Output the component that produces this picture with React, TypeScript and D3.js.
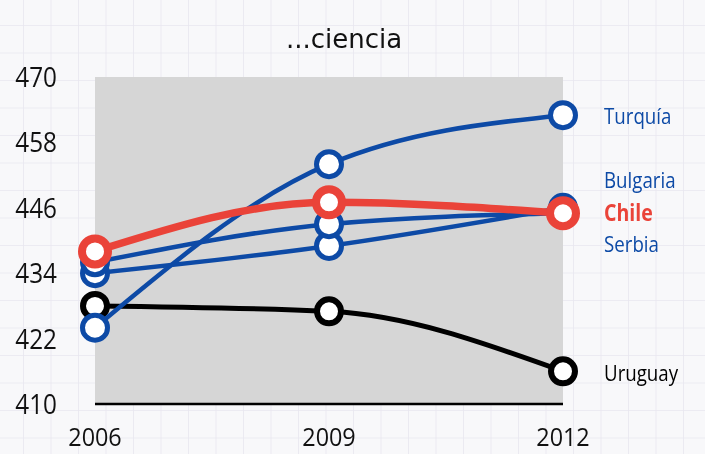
import React from "react";
import * as d3 from "d3";

const years = [2006, 2009, 2012];
const yTicks = [410, 422, 434, 446, 458, 470];

const uruguay = [428, 427, 416];
const turquia = [424, 454, 463];
const bulgaria = [434, 439, 446];
const serbia = [436, 443, 445];
const chile = [438, 447, 445];

const BLUE = "#0d4aa6";
const RED = "#ea4339";
const BLACK = "#000000";

type Series = {
  name: string;
  values: number[];
  color: string;
  lineWidth: number;
  ring: number;
  r: number;
};

const series: Series[] = [
  { name: "Uruguay", values: uruguay, color: BLACK, lineWidth: 5, ring: 6, r: 12 },
  { name: "Turquía", values: turquia, color: BLUE, lineWidth: 4.5, ring: 5, r: 12.5 },
  { name: "Bulgaria", values: bulgaria, color: BLUE, lineWidth: 4.5, ring: 5, r: 12.5 },
  { name: "Serbia", values: serbia, color: BLUE, lineWidth: 4.5, ring: 5, r: 12.5 },
  { name: "Chile", values: chile, color: RED, lineWidth: 7.5, ring: 8, r: 13 },
];

const labels = [
  { text: "Turquía", y: 115, color: BLUE, bold: false },
  { text: "Bulgaria", y: 179, color: BLUE, bold: false },
  { text: "Chile", y: 212, color: RED, bold: true },
  { text: "Serbia", y: 243, color: BLUE, bold: false },
  { text: "Uruguay", y: 372, color: BLACK, bold: false },
];

const W = 705;
const H = 454;
const FONT = "'Open Sans', sans-serif";

export default function App() {
  const x = d3.scalePoint<number>().domain(years).range([95, 563]);
  const y = d3.scaleLinear().domain([410, 470]).range([404, 77]);
  const line = d3
    .line<number>()
    .x((_, i) => x(years[i]) as number)
    .y((v) => y(v))
    .curve(d3.curveMonotoneX);

  return (
    <svg
      width={W}
      height={H}
      style={{ position: "fixed", left: 0, top: 0, display: "block" }}
    >
      <defs>
        <pattern id="paper" width={27.5} height={27.5} patternUnits="userSpaceOnUse" x={-4.5} y={-2.5}>
          <rect width={27.5} height={27.5} fill="#f8f8fa" />
          <path d="M 0 0 H 27.5 M 0 0 V 27.5" stroke="#e9e7f0" strokeWidth={1.6} fill="none" />
        </pattern>
      </defs>
      <rect width={W} height={H} fill="url(#paper)" />

      <text
        x={344}
        y={48}
        textAnchor="middle"
        fontFamily="'DejaVu Sans', sans-serif"
        fontSize={26}
        fill="#111"
      >
        ...ciencia
      </text>

      <rect x={95} y={77} width={468} height={327} fill="#d6d6d6" />
      <line x1={95} x2={563} y1={404} y2={404} stroke="#000" strokeWidth={2.5} />

      {yTicks.map((t) => (
        <text
          key={t}
          transform={`translate(57,${y(t)}) scale(0.9,1)`}
          textAnchor="end"
          dominantBaseline="central"
          fontFamily={FONT}
          fontSize={27}
          fill="#111"
        >
          {t}
        </text>
      ))}

      {years.map((yr) => (
        <text
          key={yr}
          transform={`translate(${x(yr)},446) scale(0.9,1)`}
          textAnchor="middle"
          fontFamily={FONT}
          fontSize={26}
          fill="#111"
        >
          {yr}
        </text>
      ))}

      {series.map((s) => (
        <g key={s.name}>
          <path
            d={line(s.values) || ""}
            fill="none"
            stroke={s.color}
            strokeWidth={s.lineWidth}
            strokeLinecap="round"
          />
          {s.values.map((v, i) => (
            <circle
              key={i}
              cx={x(years[i])}
              cy={y(v)}
              r={s.r}
              fill="#fff"
              stroke={s.color}
              strokeWidth={s.ring}
            />
          ))}
        </g>
      ))}

      {labels.map((l) => (
        <text
          key={l.text}
          transform={`translate(604,${l.y}) scale(0.85,1)`}
          dominantBaseline="central"
          fontFamily={FONT}
          fontWeight={l.bold ? 700 : 400}
          fontSize={l.bold ? 23 : 22}
          fill={l.color}
        >
          {l.text}
        </text>
      ))}
    </svg>
  );
}
